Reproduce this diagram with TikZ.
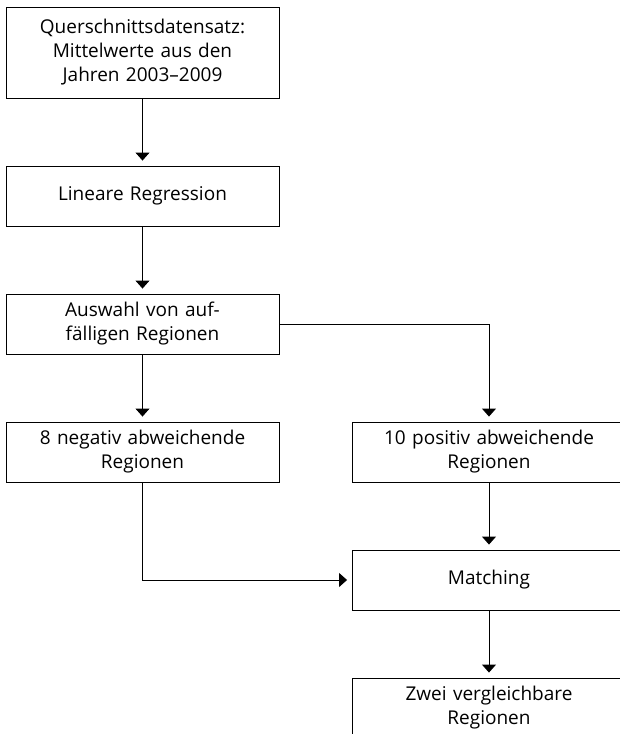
\documentclass[tikz,border=0pt]{standalone}
\usepackage{fontspec}
\setmainfont{Open Sans}
\usetikzlibrary{arrows.meta}

\begin{document}
\begin{tikzpicture}[shorten >=5pt,node distance=128pt,
				line width=0.9pt,>={Triangle[width=14pt,length=8pt]},
				main node/.style = {rectangle,draw,align=center,text width=265pt,
					minimum width=273pt,minimum height=60pt,inner sep=0pt,
					font=\fontsize{19}{24}\selectfont}]
				
				\useasboundingbox (-142.5pt,52.5pt) rectangle ++(619pt,-734pt);
				
				\node[main node,minimum height=91pt] (1) {Querschnittsdatensatz:\\Mittelwerte aus den\\Jahren 2003--2009};
				\node[main node] [below of = 1,node distance=143.5pt](2) {Lineare Regression};
				\node[main node] [below of = 2](3) {Auswahl von auf-\\fälligen Regionen};
				\node[main node] [below of = 3](4) {8 negativ abweichende\\Regionen};
				\node[main node] [right of = 4,node distance=346.5pt](5) {10 positiv abweichende\\Regionen};
				\node[main node] [below of = 5](6) {Matching};
				\node[main node] [below of = 6](7) {Zwei vergleichbare\\Regionen};
				
				\path[->]
				(1) edge node {} (2)
				(2) edge node {} (3)
				(3) edge node {} (4)
				(5) edge node {} (6)
				(6) edge node {} (7);
				\draw[->] (3) -| (5);
				\draw[->] (4) |- (6);
				\end{tikzpicture}
\end{document}
